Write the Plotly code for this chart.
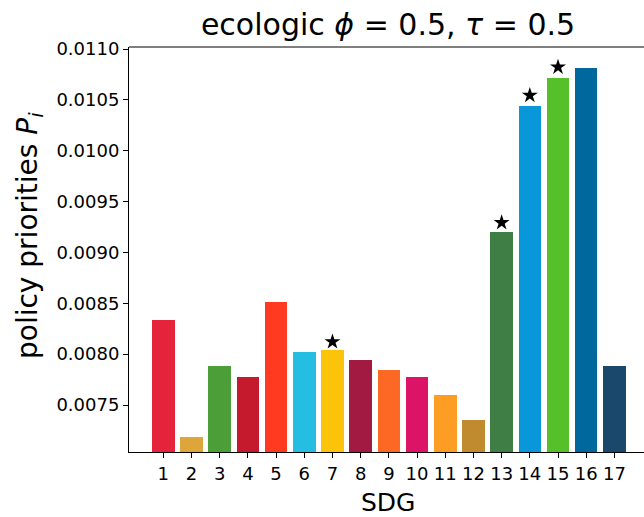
import plotly.graph_objects as go

sdg_labels = [str(i) for i in range(1, 18)]
sdg_positions = list(range(1, 18))
priorities = [0.008336, 0.007185, 0.007883, 0.007775, 0.008513, 0.008021, 0.008041,
              0.007942, 0.007844, 0.007775, 0.007598, 0.007353, 0.009201, 0.010440,
              0.010715, 0.010814, 0.007883]
sdg_colors = ["#E5243B", "#DDA63A", "#4C9F38", "#C5192D", "#FF3A21", "#26BDE2",
              "#FCC30B", "#A21942", "#FD6925", "#DD1367", "#FD9D24", "#BF8B2E",
              "#3F7E44", "#0A97D9", "#56C02B", "#00689D", "#19486A"]
starred_sdgs = [7, 13, 14, 15]
y_ticks = [0.0075, 0.0080, 0.0085, 0.0090, 0.0095, 0.0100, 0.0105, 0.0110]

star_x = [s for s in starred_sdgs]
star_y = [priorities[s - 1] * 1.01 for s in starred_sdgs]

W, H = 644, 517
L, R, T, B = 129, 0, 47, 65

fig = go.Figure()
fig.add_trace(go.Bar(x=sdg_positions, y=priorities, marker_color=sdg_colors,
                     marker_line_width=0, width=0.8, showlegend=False))
fig.add_trace(go.Scatter(x=star_x, y=star_y, mode="markers",
                         marker=dict(symbol="star", size=12, color="black"),
                         showlegend=False))

font = "DejaVu Sans, sans-serif"
fig.update_layout(
    width=W, height=H,
    margin=dict(l=L, r=R, t=T, b=B, autoexpand=False),
    plot_bgcolor="white", paper_bgcolor="white",
    font=dict(family=font, color="black"),
    title=dict(text="ecologic <i>ϕ</i> = 0.5, <i>τ</i> = 0.5",
               x=388 / W, xref="container", xanchor="center",
               y=1 - 24 / H, yref="container", yanchor="middle",
               font=dict(size=30, family=font, color="black")),
    bargap=0,
)
fig.update_xaxes(range=[-0.217, 18.05], tickvals=sdg_positions, ticktext=sdg_labels,
                 ticks="outside", ticklen=5, tickwidth=1, tickcolor="black",
                 showline=True, linecolor="black", linewidth=1, mirror=False,
                 showgrid=False, zeroline=False, automargin=False,
                 tickfont=dict(size=18, family=font, color="black"))
fig.update_yaxes(range=[0.007038, 0.01102], tickvals=y_ticks, tickformat=".4f",
                 ticks="outside", ticklen=5, tickwidth=1, tickcolor="black",
                 showline=True, linecolor="black", linewidth=1, mirror=False,
                 showgrid=False, zeroline=False, automargin=False,
                 tickfont=dict(size=18, family=font, color="black"))
fig.add_shape(type="line", xref="paper", yref="paper", x0=0, x1=1, y0=1, y1=1,
              line=dict(color="black", width=1))
fig.add_annotation(text="SDG", xref="paper", yref="paper",
                   x=(388 - L) / (W - L - R), y=-(502 - (H - B)) / (H - T - B),
                   xanchor="center", yanchor="middle", showarrow=False,
                   font=dict(size=25, family=font, color="black"))
fig.add_annotation(text="policy priorities <i>P</i><sub><i>i</i></sub>",
                   xref="paper", yref="paper",
                   x=-(L - 29) / (W - L - R), y=((H - B) - 236) / (H - T - B),
                   textangle=-90,
                   xanchor="center", yanchor="middle", showarrow=False,
                   font=dict(size=28, family=font, color="black"))
fig.write_html("out.html", config={"displayModeBar": False},
               post_script="document.body.style.margin='0';document.body.style.overflow='hidden';")
